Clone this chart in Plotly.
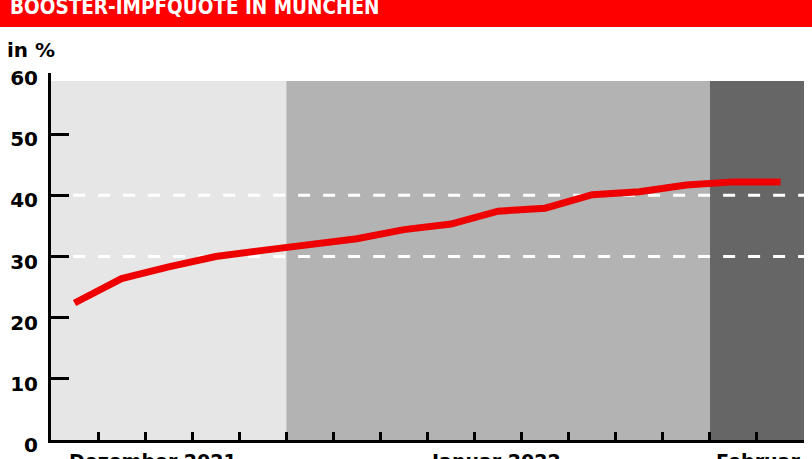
import plotly.graph_objects as go

# Booster-Impfquote München (in %)
woche = [0.5, 1.5, 2.5, 3.5, 4.5, 5.5, 6.5, 7.5, 8.5, 9.5, 10.5, 11.5, 12.5, 13.5, 14.5, 15.5]
quote = [22.4, 26.4, 28.3, 30.0, 31.0, 32.0, 32.9, 34.4, 35.3, 37.4, 37.9, 40.1, 40.6, 41.7, 42.2, 42.2]

y_ticks = [0, 10, 20, 30, 40, 50, 60]
x_ticks = list(range(1, 17))
dashed_levels = [30, 40]

# Hintergrundphasen (Dezember / Januar / Februar)
phasen = [(0, 5, '#e6e6e6'), (5, 14, '#b3b3b3'), (14, 16, '#666666')]
phase_top = 58.7

monate = ['Dezember 2021', 'Januar 2022', 'Februar']
monat_pos = [2.17, 9.45, 15.03]

titel = 'BOOSTER-IMPFQUOTE IN MÜNCHEN'

W, H = 812, 459
ml, mr, mt, mb = 51, 8, 73, 19
pw = W - ml - mr
ph = H - mt - mb


def px_x(p):
    return (p - ml) / pw


def px_y(p):
    return (H - mb - p) / ph


fig = go.Figure()

fig.add_trace(go.Scatter(x=woche, y=quote, mode='lines',
                         line=dict(color='#ee0000', width=7),
                         hoverinfo='skip', showlegend=False))

for x0, x1, farbe in phasen:
    fig.add_shape(type='rect', xref='x', yref='y', x0=x0, x1=x1, y0=0, y1=phase_top,
                  fillcolor=farbe, line_width=0, layer='below')

for lvl in dashed_levels:
    fig.add_shape(type='line', xref='x', yref='y', x0=0.47, x1=16, y0=lvl, y1=lvl,
                  line=dict(color='white', width=3, dash='12px,13px'), layer='below')

# roter Titelbalken
fig.add_shape(type='rect', xref='paper', yref='paper',
              x0=px_x(0), x1=px_x(W), y0=px_y(27), y1=px_y(-5),
              fillcolor='#fe0000', line_width=0)
fig.add_annotation(text=titel, xref='paper', yref='paper', x=px_x(8), y=px_y(6),
                   xanchor='left', yanchor='middle', showarrow=False,
                   font=dict(family='DejaVu Sans Condensed, DejaVu Sans', size=20.5,
                             color='white', weight='bold'))

fig.add_annotation(text='in %', xref='paper', yref='paper', x=px_x(5), y=px_y(50),
                   xanchor='left', yanchor='middle', showarrow=False,
                   font=dict(family='DejaVu Sans', size=20, color='black', weight='bold'))

for name, pos in zip(monate, monat_pos):
    fig.add_annotation(text=name, xref='x', yref='paper', x=pos, y=px_y(461),
                       xanchor='center', yanchor='middle', showarrow=False,
                       font=dict(family='DejaVu Sans', size=19, color='black', weight='bold'))

fig.update_xaxes(range=[0, 16], tickmode='array', tickvals=x_ticks, showticklabels=False,
                 ticks='inside', ticklen=8, tickwidth=3, tickcolor='black',
                 showline=True, linewidth=3, linecolor='black', automargin=False,
                 showgrid=False, zeroline=False, fixedrange=True)
fig.update_yaxes(range=[0, 60], tickmode='array', tickvals=y_ticks,
                 ticks='inside', ticklen=18, tickwidth=3, tickcolor='black',
                 showline=True, linewidth=3, linecolor='black', automargin=False,
                 ticklabelstandoff=6, ticklabelshift=5,
                 tickfont=dict(family='DejaVu Sans', size=20, color='black', weight='bold'),
                 showgrid=False, zeroline=False, fixedrange=True)

fig.update_layout(width=W, height=H,
                  margin=dict(l=ml, r=mr, t=mt, b=mb),
                  plot_bgcolor='white', paper_bgcolor='white')

# Standard-Seitenrand des Browsers entfernen, damit die Grafik bei (0,0) beginnt
fig.write_html('out.html', config={'displayModeBar': False},
               post_script="document.body.style.margin='0';")
